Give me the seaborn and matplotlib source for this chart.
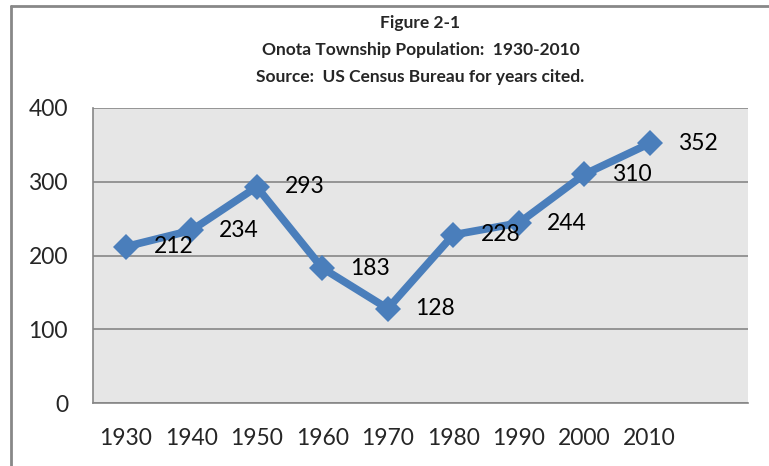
import matplotlib
matplotlib.use("Agg")
import matplotlib.pyplot as plt
import seaborn as sns
import pandas as pd
from matplotlib.lines import Line2D

years = ["1930", "1940", "1950", "1960", "1970", "1980", "1990", "2000", "2010"]
population = [212, 234, 293, 183, 128, 228, 244, 310, 352]
y_ticks = [0, 100, 200, 300, 400]

title_lines = [
    "Figure 2-1",
    "Onota Township Population:  1930-2010",
    "Source:  US Census Bureau for years cited.",
]

BLUE = "#4a7ebb"
GRID = "#868686"

sns.set_style("white")
plt.rcParams["font.family"] = ["Lato", "DejaVu Sans"]

df = pd.DataFrame({"year": years, "population": population})

fig = plt.figure(figsize=(7.69, 4.66), dpi=100)
ax = fig.add_axes([93 / 769, 1 - 403 / 466, (748 - 93) / 769, (403 - 108) / 466])
ax.set_facecolor("#e6e6e6")

sns.lineplot(data=df, x="year", y="population", ax=ax, color=BLUE,
             linewidth=5.5, marker="D", markersize=13, markeredgewidth=0,
             sort=False, zorder=3)

for i, v in enumerate(population):
    ax.annotate(str(v), (i, v), xytext=(20, 0), textcoords="offset points",
                ha="left", va="center", fontsize=16.5, color="black", zorder=4)

ax.set_xlim(-0.5, 9.5)
ax.set_ylim(0, 400)
ax.set_yticks(y_ticks)
ax.set_xlabel("")
ax.set_ylabel("")
ax.yaxis.grid(True, color=GRID, linewidth=1.2)
ax.set_axisbelow(True)
ax.tick_params(axis="both", length=0, labelsize=16.5, pad=18)

for side in ["top", "right"]:
    ax.spines[side].set_visible(False)
for side in ["left", "bottom"]:
    ax.spines[side].set_color(GRID)
    ax.spines[side].set_linewidth(1.2)

# chart frame (only the left and top edges are visible in the crop)
fig.add_artist(Line2D([11 / 769, 11 / 769], [0, 1 - 6 / 466], color="#888888",
                      linewidth=2, transform=fig.transFigure))
fig.add_artist(Line2D([11 / 769, 1], [1 - 6 / 466, 1 - 6 / 466], color="#888888",
                      linewidth=2, transform=fig.transFigure))

cx = (93 + 748) / 2 / 769
for k, line in enumerate(title_lines):
    fig.text(cx, 1 - (23 + 27 * k) / 466, line, ha="center", va="center",
             fontsize=12.5, fontweight="bold")

fig.savefig("out.png", dpi=100)
